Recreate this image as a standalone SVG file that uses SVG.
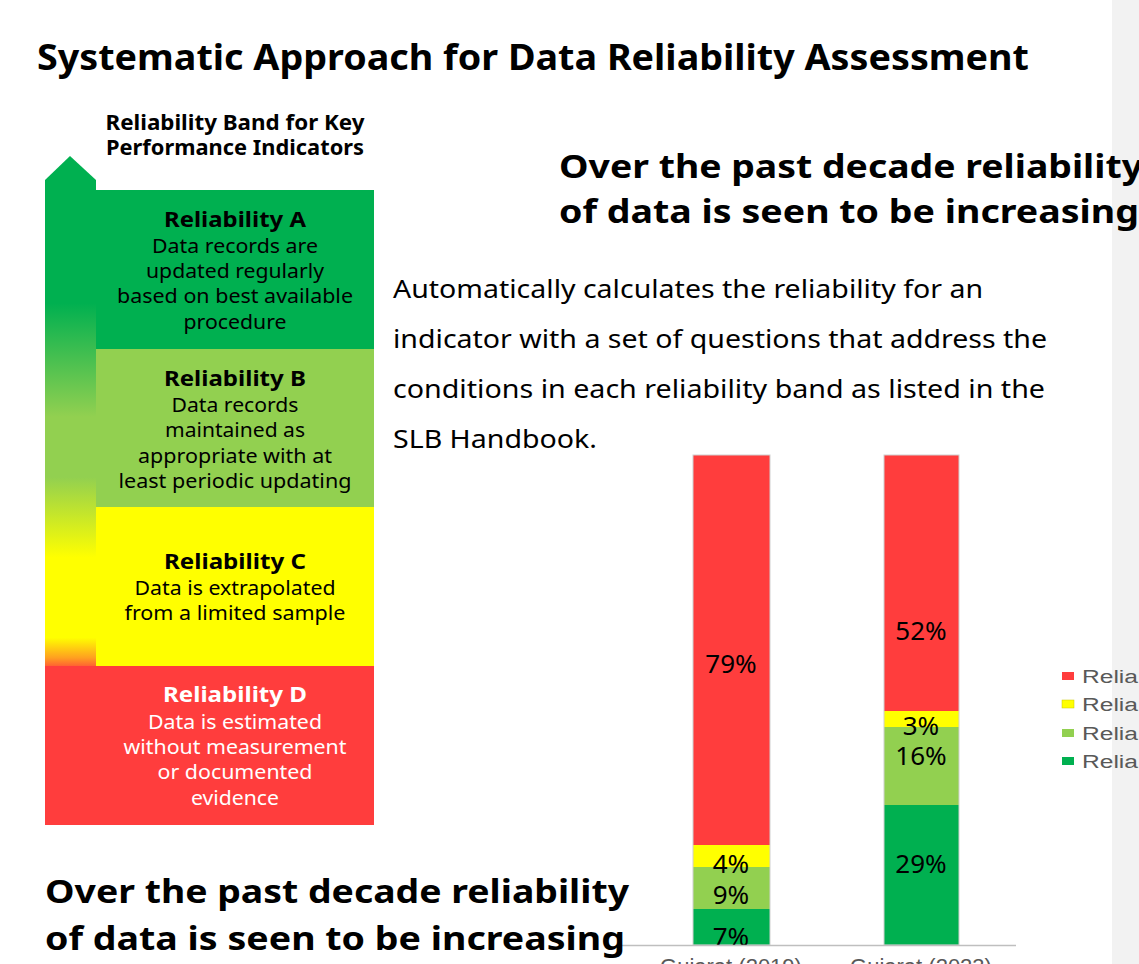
<svg xmlns="http://www.w3.org/2000/svg" width="1139" height="964" viewBox="0 0 1139 964">
<style>
.t{font-family:"Noto Sans","Open Sans","DejaVu Sans",sans-serif;fill:#000}
.b{font-weight:bold}
.c{text-anchor:middle}
.bt{font-size:22px;font-weight:bold}
.bd{font-size:20px}
.w{fill:#fff}
.h{font-size:33px;font-weight:bold}
.p{font-size:26px}
.lab{font-family:"Noto Sans","Open Sans",sans-serif;font-size:26px;text-anchor:middle;fill:#000}
.ax{font-family:"Liberation Sans",Arial,sans-serif;font-size:22px;fill:#595959;text-anchor:middle}
.lg{font-family:"Liberation Sans",Arial,sans-serif;font-size:18px;fill:#595959}
</style>
<defs>
<linearGradient id="arrowGrad" x1="0" y1="156" x2="0" y2="825" gradientUnits="userSpaceOnUse">
<stop offset="0" stop-color="#00b050"/>
<stop offset="0.22" stop-color="#00b050"/>
<stop offset="0.39" stop-color="#92d050"/>
<stop offset="0.48" stop-color="#92d050"/>
<stop offset="0.60" stop-color="#ffff00"/>
<stop offset="0.72" stop-color="#ffff00"/>
<stop offset="0.75" stop-color="#ffa020"/>
<stop offset="0.77" stop-color="#ff3d3d"/>
<stop offset="1" stop-color="#ff3d3d"/>
</linearGradient>
</defs>
<rect width="1139" height="964" fill="#fff"/>
<rect x="1112" y="0" width="27" height="964" fill="#f2f2f2"/>

<g id="title">
<text class="t b" x="37" y="70" font-size="35" textLength="992" lengthAdjust="spacingAndGlyphs">Systematic Approach for Data Reliability Assessment</text>
</g>

<g id="band-heading">
<text class="t b c" x="235" y="130" font-size="21" textLength="259" lengthAdjust="spacingAndGlyphs">Reliability Band for Key</text>
<text class="t b c" x="235" y="155" font-size="21" textLength="258" lengthAdjust="spacingAndGlyphs">Performance Indicators</text>
</g>

<g id="arrow">
<path d="M70,156 L96,180 L96,825 L45,825 L45,180 Z" fill="url(#arrowGrad)"/>
</g>

<g id="band-a">
<rect x="96" y="190" width="278" height="159" fill="#00b050"/>
<text class="t bt c" x="235" y="227" textLength="142" lengthAdjust="spacingAndGlyphs">Reliability A</text>
<text class="t bd c" x="235" y="253" textLength="166" lengthAdjust="spacingAndGlyphs">Data records are</text>
<text class="t bd c" x="235" y="278" textLength="178" lengthAdjust="spacingAndGlyphs">updated regularly</text>
<text class="t bd c" x="235" y="303" textLength="236" lengthAdjust="spacingAndGlyphs">based on best available</text>
<text class="t bd c" x="235" y="329" textLength="103" lengthAdjust="spacingAndGlyphs">procedure</text>
</g>

<g id="band-b">
<rect x="96" y="349" width="278" height="158" fill="#92d050"/>
<text class="t bt c" x="235" y="386" textLength="142" lengthAdjust="spacingAndGlyphs">Reliability B</text>
<text class="t bd c" x="235" y="412" textLength="127" lengthAdjust="spacingAndGlyphs">Data records</text>
<text class="t bd c" x="235" y="437" textLength="140" lengthAdjust="spacingAndGlyphs">maintained as</text>
<text class="t bd c" x="235" y="463" textLength="194" lengthAdjust="spacingAndGlyphs">appropriate with at</text>
<text class="t bd c" x="235" y="488" textLength="233" lengthAdjust="spacingAndGlyphs">least periodic updating</text>
</g>

<g id="band-c">
<rect x="96" y="507" width="278" height="159" fill="#ffff00"/>
<text class="t bt c" x="235" y="569" textLength="142" lengthAdjust="spacingAndGlyphs">Reliability C</text>
<text class="t bd c" x="235" y="595" textLength="201" lengthAdjust="spacingAndGlyphs">Data is extrapolated</text>
<text class="t bd c" x="235" y="620" textLength="221" lengthAdjust="spacingAndGlyphs">from a limited sample</text>
</g>

<g id="band-d">
<rect x="45" y="666" width="329" height="159" fill="#ff3d3d"/>
<text class="t bt c w" x="235" y="702" textLength="144" lengthAdjust="spacingAndGlyphs">Reliability D</text>
<text class="t bd c w" x="235" y="729" textLength="174" lengthAdjust="spacingAndGlyphs">Data is estimated</text>
<text class="t bd c w" x="235" y="754" textLength="223" lengthAdjust="spacingAndGlyphs">without measurement</text>
<text class="t bd c w" x="235" y="779" textLength="155" lengthAdjust="spacingAndGlyphs">or documented</text>
<text class="t bd c w" x="235" y="805" textLength="88" lengthAdjust="spacingAndGlyphs">evidence</text>
</g>

<g id="heading-top">
<text class="t h" x="559" y="178" textLength="584" lengthAdjust="spacingAndGlyphs">Over the past decade reliability</text>
<text class="t h" x="559" y="223" textLength="580" lengthAdjust="spacingAndGlyphs">of data is seen to be increasing</text>
</g>

<g id="paragraph">
<text class="t p" x="393" y="298" textLength="590" lengthAdjust="spacingAndGlyphs">Automatically calculates the reliability for an</text>
<text class="t p" x="393" y="348" textLength="654" lengthAdjust="spacingAndGlyphs">indicator with a set of questions that address the</text>
<text class="t p" x="393" y="398" textLength="652" lengthAdjust="spacingAndGlyphs">conditions in each reliability band as listed in the</text>
<text class="t p" x="393" y="448" textLength="204" lengthAdjust="spacingAndGlyphs">SLB Handbook.</text>
</g>

<g id="chart">
<g id="bar-2019">
<rect x="693" y="455" width="77" height="390" fill="#ff3d3d"/>
<rect x="693" y="845" width="77" height="22" fill="#ffff00"/>
<rect x="693" y="867" width="77" height="42" fill="#92d050"/>
<rect x="693" y="909" width="77" height="36" fill="#00b050"/>
<rect x="693" y="455" width="77" height="490" fill="none" stroke="#d0d0d0" stroke-width="1"/>
<text class="lab" x="731" y="673">79%</text>
<text class="lab" x="731" y="873">4%</text>
<text class="lab" x="731" y="904">9%</text>
<text class="lab" x="731" y="946">7%</text>
</g>
<g id="bar-2023">
<rect x="884" y="455" width="75" height="256" fill="#ff3d3d"/>
<rect x="884" y="711" width="75" height="16" fill="#ffff00"/>
<rect x="884" y="727" width="75" height="78" fill="#92d050"/>
<rect x="884" y="805" width="75" height="140" fill="#00b050"/>
<rect x="884" y="455" width="75" height="490" fill="none" stroke="#d0d0d0" stroke-width="1"/>
<text class="lab" x="921" y="640">52%</text>
<text class="lab" x="921" y="735">3%</text>
<text class="lab" x="921" y="765">16%</text>
<text class="lab" x="921" y="873">29%</text>
</g>
<line x1="620" y1="945.5" x2="1016" y2="945.5" stroke="#bfbfbf" stroke-width="1.5"/>
<text class="ax" x="731" y="974">Gujarat (2019)</text>
<text class="ax" x="921" y="974">Gujarat (2023)</text>
<g id="legend">
<rect x="1062" y="672" width="12" height="8" fill="#ff3d3d"/>
<text class="lg" x="1082" y="683" textLength="56" lengthAdjust="spacingAndGlyphs">Relia</text>
<rect x="1062" y="700" width="12" height="8" fill="#ffff00" stroke="#c8c800" stroke-width="0.5"/>
<text class="lg" x="1082" y="711" textLength="56" lengthAdjust="spacingAndGlyphs">Relia</text>
<rect x="1062" y="729" width="12" height="8" fill="#92d050"/>
<text class="lg" x="1082" y="740" textLength="56" lengthAdjust="spacingAndGlyphs">Relia</text>
<rect x="1062" y="757" width="12" height="8" fill="#00b050"/>
<text class="lg" x="1082" y="768" textLength="56" lengthAdjust="spacingAndGlyphs">Relia</text>
</g>
</g>

<g id="heading-bottom">
<text class="t h" x="45" y="903" textLength="584" lengthAdjust="spacingAndGlyphs">Over the past decade reliability</text>
<text class="t h" x="45" y="950" textLength="580" lengthAdjust="spacingAndGlyphs">of data is seen to be increasing</text>
</g>

<g id="connectors"></g>
</svg>
